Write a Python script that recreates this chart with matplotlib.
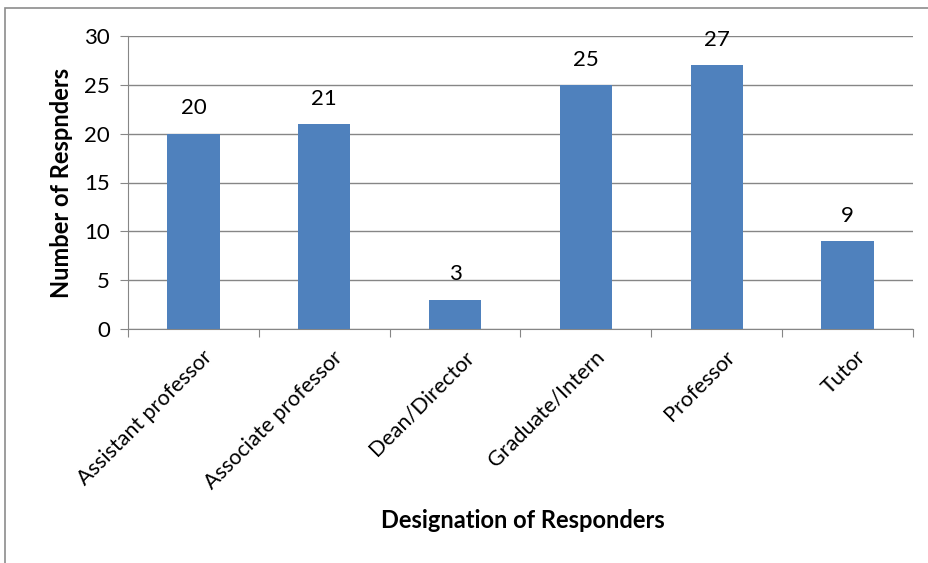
import matplotlib.pyplot as plt
from matplotlib.patches import Rectangle

categories = [
    "Assistant professor",
    "Associate professor",
    "Dean/Director",
    "Graduate/Intern",
    "Professor",
    "Tutor",
]
responders = [20, 21, 3, 25, 27, 9]
y_ticks = [0, 5, 10, 15, 20, 25, 30]

BAR_COLOR = "#4F81BD"
GRID_COLOR = "#868686"

plt.rcParams["font.family"] = ["Lato", "DejaVu Sans"]

fig = plt.figure(figsize=(9.29, 5.63), dpi=100)
W, H = 929, 563

# chart frame (runs past the right and bottom edges)
fig.patches.append(
    Rectangle((5 / W, -0.05), 1.0, 1.05 - 8 / H, transform=fig.transFigure,
              fill=False, edgecolor="#8c8c8c", linewidth=1.2)
)

ax = fig.add_axes([128 / W, 1 - 329 / H, (913 - 128) / W, (329 - 36) / H])

x = list(range(len(categories)))
ax.bar(x, responders, width=0.4, color=BAR_COLOR, zorder=3)

for xi, v in zip(x, responders):
    ax.annotate(str(v), (xi, v), xytext=(0, 11), textcoords="offset points",
                ha="center", va="bottom", fontsize=16)

ax.set_xlim(-0.5, len(categories) - 0.5)
ax.set_ylim(0, 30)
ax.set_yticks(y_ticks)
ax.yaxis.grid(True, color=GRID_COLOR, linewidth=1.0, zorder=0)
ax.tick_params(axis="y", length=6, color=GRID_COLOR, labelsize=16, pad=7)

# category boundary ticks on the x axis
ax.set_xticks([i - 0.5 for i in range(len(categories) + 1)])
ax.set_xticklabels([])
ax.tick_params(axis="x", length=6, color=GRID_COLOR)
for xi, name in zip(x, categories):
    ax.annotate(name, (xi, 0), xytext=(6, -13), textcoords="offset points",
                rotation=45, ha="right", va="top", rotation_mode="anchor",
                fontsize=15.5, annotation_clip=False)

for side in ["top", "right"]:
    ax.spines[side].set_visible(False)
ax.spines["left"].set_color(GRID_COLOR)
ax.spines["bottom"].set_color(GRID_COLOR)

ax.set_ylabel("Number of Respnders", fontsize=17, fontweight="bold", labelpad=8)
fig.text(523 / W, 1 - 521 / H, "Designation of Responders", fontsize=17,
         fontweight="bold", ha="center", va="center")

fig.savefig("out.png", dpi=100)
